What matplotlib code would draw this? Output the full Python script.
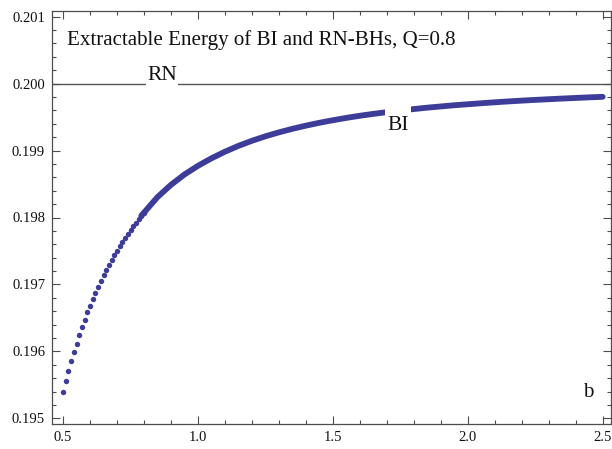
import matplotlib
matplotlib.use("Agg")
import matplotlib.pyplot as plt
import matplotlib.ticker as mticker
from matplotlib.path import Path
import numpy as np

# ---- data ----
b_values = [0.50, 0.51, 0.52, 0.53, 0.54, 0.55, 0.56, 0.57, 0.58, 0.59,
            0.60, 0.61, 0.62, 0.63, 0.64, 0.65, 0.66, 0.67, 0.68, 0.69,
            0.70, 0.71, 0.72, 0.73, 0.74, 0.75, 0.76, 0.77, 0.78, 0.79,
            0.80, 0.85, 0.90, 0.95, 1.00, 1.05, 1.10, 1.15, 1.20, 1.25,
            1.30, 1.35, 1.40, 1.45, 1.50, 1.55, 1.60, 1.65, 1.70, 1.75,
            1.80, 1.85, 1.90, 1.95, 2.00, 2.05, 2.10, 2.15, 2.20, 2.25,
            2.30, 2.35, 2.40, 2.45, 2.50]
E_bi = [0.195396, 0.195556, 0.195706, 0.195849, 0.195984, 0.196114, 0.196244, 0.196363, 0.196472, 0.196581,
        0.196682, 0.196786, 0.196876, 0.196966, 0.197055, 0.197141, 0.197215, 0.197290, 0.197365, 0.197438,
        0.197506, 0.197572, 0.197635, 0.197698, 0.197757, 0.197815, 0.197870, 0.197924, 0.197975, 0.198026,
        0.198073, 0.198305, 0.198488, 0.198643, 0.198772, 0.198884, 0.198983, 0.199070, 0.199146, 0.199213,
        0.199272, 0.199325, 0.199372, 0.199415, 0.199453, 0.199488, 0.199520, 0.199548, 0.199574, 0.199598,
        0.199620, 0.199641, 0.199659, 0.199677, 0.199692, 0.199707, 0.199721, 0.199734, 0.199746, 0.199757,
        0.199767, 0.199777, 0.199786, 0.199795, 0.199803]
E_rn = 0.200

x_ticks = [0.5, 1.0, 1.5, 2.0, 2.5]
y_ticks = [0.195, 0.196, 0.197, 0.198, 0.199, 0.200, 0.201]
title_text = "Extractable Energy of BI and RN-BHs, Q=0.8"

# ---- figure ----
plt.rcParams['font.family'] = ['Liberation Serif', 'DejaVu Serif']
fig = plt.figure(figsize=(6.12, 4.49), dpi=100)
ax = fig.add_axes([52/612, 1-424/449, (611-52)/612, (424-11)/449])

blue = '#3d3d99'
frame = '#4d4d4d'

b_arr = np.array(b_values)
E_arr = np.array(E_bi)
# separate dots where the sampling is visible, a dense thick trace beyond
dots = b_arr <= 0.80
ax.plot(b_arr[dots], E_arr[dots], 'o', ms=3.9, color=blue, mec='none', zorder=2)
trace = b_arr >= 0.79
ax.plot(b_arr[trace], E_arr[trace], '-', lw=4.2, color=blue,
        solid_capstyle='round', zorder=2.1)

ax.axhline(E_rn, color='#555555', lw=1.0, zorder=1)

ax.set_xlim(0.459, 2.531)
ax.set_ylim(0.194915, 0.201085)

ax.set_xticks(x_ticks)
ax.set_xticklabels([f"{v:.1f}" for v in x_ticks])
ax.set_yticks(y_ticks)
ax.set_yticklabels([f"{v:.3f}" for v in y_ticks])
ax.xaxis.set_minor_locator(mticker.MultipleLocator(0.1))
ax.yaxis.set_minor_locator(mticker.MultipleLocator(0.0002))

ax.tick_params(which='both', direction='in', top=True, right=True,
               color=frame, width=0.8, labelsize=10.5, labelcolor='#111111')
ax.tick_params(which='major', length=5.5, pad=5)
ax.tick_params(which='minor', length=3)
for s in ax.spines.values():
    s.set_color(frame)
    s.set_linewidth(0.9)


def label_box(pad_x, pad_top, pad_bottom):
    """Label background box with separate paddings (fractions of font size)."""
    def box(x0, y0, width, height, mutation_size):
        px = pad_x * mutation_size
        pt = pad_top * mutation_size
        pb = pad_bottom * mutation_size
        x1, y1 = x0 + width + px, y0 + height + pt
        xa, ya = x0 - px, y0 - pb
        return Path([(xa, ya), (x1, ya), (x1, y1), (xa, y1), (xa, ya)],
                    closed=True)
    return box


# labels
ax.text(0.0268, 0.9177, title_text, transform=ax.transAxes,
        fontsize=15.1, va='baseline', ha='left', color='#111111')
ax.text(0.867, 0.200054, "RN", fontsize=15.5, ha='center', va='baseline',
        color='#111111', zorder=5,
        bbox=dict(boxstyle=label_box(0.07, 0.05, 0.15), fc='white', ec='none'))
ax.text(1.742, 0.199307, "BI", fontsize=15.5, ha='center', va='baseline',
        color='#111111', zorder=5,
        bbox=dict(boxstyle=label_box(0.12, 0.5, 0.05), fc='white', ec='none'))
ax.text(0.959, 0.0654, "b", transform=ax.transAxes, fontsize=15,
        ha='center', va='baseline', color='#111111')

fig.savefig("out.png", dpi=100)
